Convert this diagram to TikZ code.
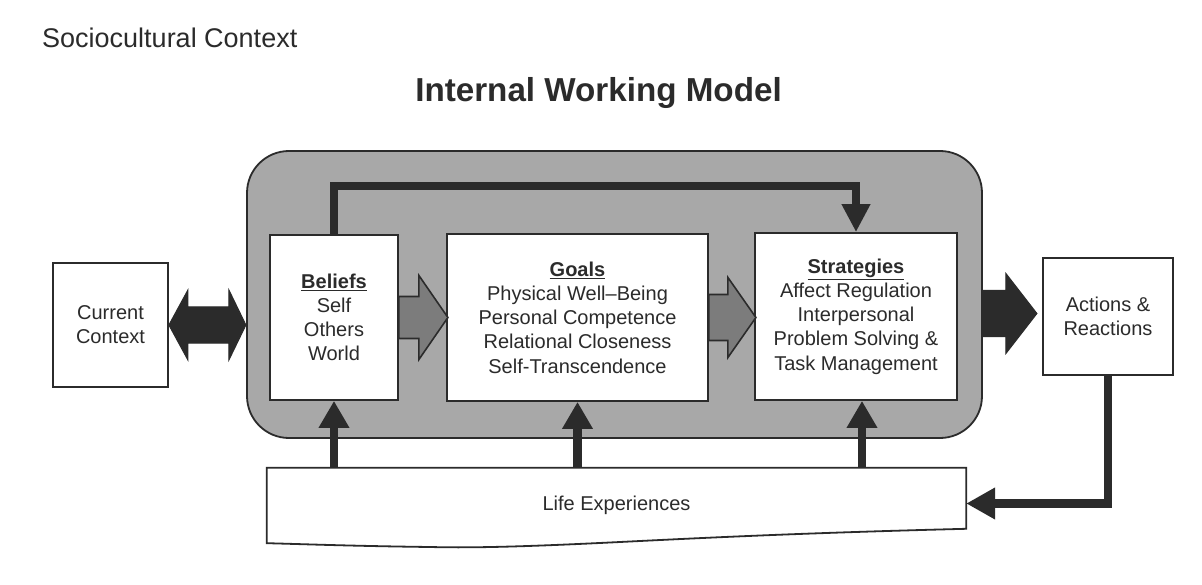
\documentclass[tikz,border=0pt]{standalone}
\usepackage{fontspec}
\setmainfont{Liberation Sans}
\usetikzlibrary{arrows.meta,calc}
\definecolor{ink}{HTML}{2B2B2B}
\definecolor{panelgray}{HTML}{A8A8A8}
\definecolor{midarrow}{HTML}{7C7C7C}
\newcommand\boxfont{\fontsize{20}{24.2}\selectfont}
\begin{document}
\begin{tikzpicture}[x=1pt,y=-1pt,
  box/.style={draw=ink,line width=1.8pt,fill=white,inner sep=0pt,align=center,font=\boxfont,text=ink},
  panel/.style={draw=ink,line width=1.8pt,fill=panelgray,rounded corners=42pt,inner sep=0pt},
  thickline/.style={draw=ink,line width=8.5pt},
  uparrow/.style={thickline,-{Triangle[length=27pt,width=29pt]}},
  darkblock/.style={fill=ink,draw=ink,line width=1pt,line join=miter},
  grayblock/.style={fill=midarrow,draw=ink,line width=1.6pt,line join=miter},
  lifeline/.style={draw=ink,line width=1.8pt}
]
\useasboundingbox (0,0) rectangle (1202,585);
\fill[white] (0,0) rectangle (1202,585);

% headings
\node[anchor=base west,inner sep=0pt,font=\fontsize{27}{31}\selectfont,text=ink] (soc) at (42,48) {Sociocultural Context};
\node[anchor=base,inner sep=0pt,font=\fontsize{33.2}{37}\selectfont\bfseries,text=ink] (title) at (598.5,102) {Internal Working Model};

% panel
\node[panel,minimum width=735pt,minimum height=287pt] (iwm) at (614.5,294.5) {};

% boxes
\node[box,minimum width=115pt,minimum height=124pt] (cur) at (110.5,325) {Current\\Context};
\node[box,minimum width=128pt,minimum height=165pt] (bel) at (334,317.5) {\underline{\textbf{Beliefs}}\\Self\\Others\\World};
\node[box,minimum width=261pt,minimum height=167pt] (goal) at (577.5,317.5) {\underline{\textbf{Goals}}\\Physical Well--Being\\Personal Competence\\Relational Closeness\\Self-Transcendence};
\node[box,minimum width=202pt,minimum height=167pt] (strat) at (856,316.5) {\underline{\textbf{Strategies}}\\Affect Regulation\\Interpersonal\\Problem Solving \&\\Task Management};
\node[box,minimum width=130pt,minimum height=117pt] (act) at (1108,316.5) {Actions \&\\Reactions};

% life experiences
\node[inner sep=0pt,minimum width=699pt,minimum height=75pt,font=\boxfont,text=ink] (life) at (616.5,505.5) {Life Experiences};
\draw[lifeline] (life.north west) -- (life.north east) -- ($(life.north east)+(0,61)$)
  .. controls (800,533) and (700,538) .. (620,542)
  .. controls (520,547) and (470,548) .. (430,547)
  .. controls (350,546) and (300,544) .. (life.south west) -- cycle;

% double block arrow current <-> beliefs
\filldraw[darkblock] (cur.east) -- ++(19,-35) -- ++(0,17) -- ++(41,0) -- ++(0,-17)
  -- ++(17,35) -- ++(-17,35) -- ++(0,-17) -- ++(-41,0) -- ++(0,17) -- cycle;

% gray block arrows
\filldraw[grayblock] ($(bel.east)+(0,-21)$) -- ++(20,0) -- ++(0,-21) -- ++(29,42)
  -- ++(-29,42) -- ++(0,-21) -- ++(-20,0) -- cycle;
\filldraw[grayblock] ($(goal.east)+(0,-23)$) -- ++(19,0) -- ++(0,-17) -- ++(28,40)
  -- ++(-28,40) -- ++(0,-17) -- ++(-19,0) -- cycle;

% dark block arrow strategies -> actions
\filldraw[darkblock] ($(iwm.east |- strat.east)+(0,-26)$) -- ++(23,0) -- ++(0,-17) -- ++(31,40)
  -- ++(-31,40) -- ++(0,-17) -- ++(-23,0) -- cycle;

% feedback beliefs -> strategies
\draw[thickline,-{Triangle[length=28pt,width=27pt]}] (bel.north) -- ++(0,-48) -| (strat.north);

% life experiences -> boxes
\draw[uparrow] (life.north -| bel.south) -- (bel.south);
\draw[uparrow] (life.north -| goal.south) -- (goal.south);
\draw[uparrow] ($(life.north -| strat.south)+(6,0)$) -- ($(strat.south)+(6,0)$);

% actions -> life experiences
\draw[thickline,-{Triangle[length=29pt,width=30pt]}] (act.south) |- ($(life.east)+(0,-2)$);
\end{tikzpicture}
\end{document}
